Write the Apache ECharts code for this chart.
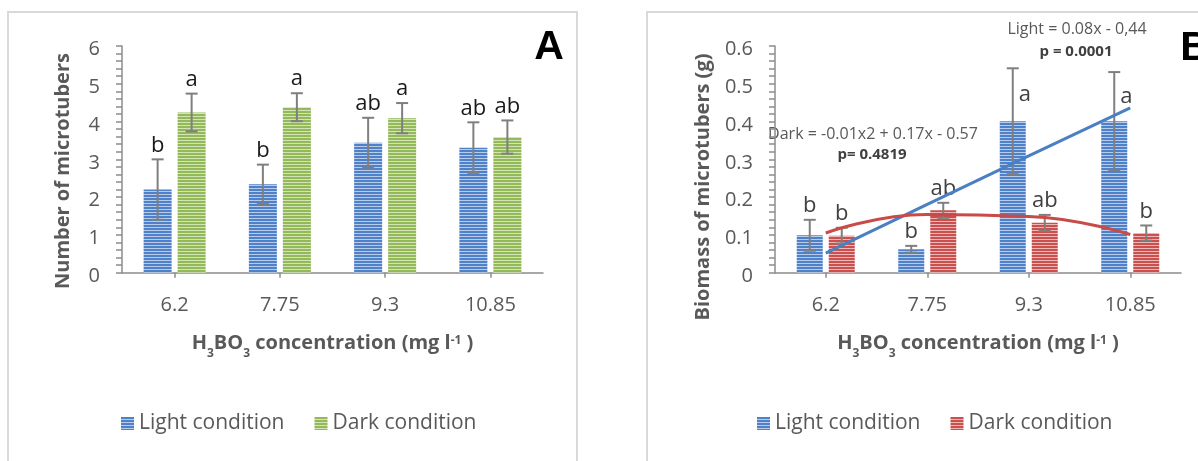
<!DOCTYPE html>
<html><head><meta charset="utf-8">
<script src="https://cdn.jsdelivr.net/npm/echarts@6.0.0/dist/echarts.min.js"></script>
<style>html,body{margin:0;padding:0;background:#fff}#c{width:1198px;height:461px}</style>
</head><body><div id="c"></div>
<script>
// ---------- data ----------
const categories = ['6.2', '7.75', '9.3', '10.85'];

// Panel A: number of microtubers
const lightCountA    = [2.2, 2.34, 3.44, 3.31];
const lightCountErrA = [0.8, 0.52, 0.66, 0.67];
const darkCountA     = [4.24, 4.38, 4.09, 3.59];
const darkCountErrA  = [0.5, 0.37, 0.4, 0.44];
const lightLettersA  = ['b', 'b', 'ab', 'ab'];
const darkLettersA   = ['a', 'a', 'a', 'ab'];

// Panel B: biomass of microtubers (g)
const lightBiomassB    = [0.099, 0.062, 0.401, 0.401];
const lightBiomassErrB = [0.041, 0.009, 0.14, 0.13];
const darkBiomassB     = [0.098, 0.165, 0.132, 0.105];
const darkBiomassErrB  = [0.021, 0.02, 0.021, 0.02];
const lightLettersB    = ['b', 'b', 'a', 'a'];
const darkLettersB     = ['b', 'ab', 'ab', 'b'];
const lightTrendB      = [0.052, 0.181, 0.309, 0.436];
const darkTrendB       = [0.105, 0.154, 0.149, 0.101];

const seriesNames = ['Light condition', 'Dark condition'];
const yAxisTitleA = 'Number of microtubers';
const yAxisTitleB = 'Biomass of microtubers (g)';
// x-axis title pieces: [text, kind]
const xAxisTitleParts = [['H', 'n'], ['3', 'sub'], ['BO', 'n'], ['3', 'sub'], [' concentration (mg l', 'n'], ['-1', 'sup'], [' )', 'n']];
const lightEquation = 'Light = 0.08x - 0,44';
const lightP = 'p = 0.0001';
const darkEquation = 'Dark = -0.01x2 + 0.17x - 0.57';
const darkP = 'p= 0.4819';

// ---------- styling ----------
const FONT = '"Open Sans", "DejaVu Sans", sans-serif';
const GREY = '#595959';
const AXIS = '#8c8c8c';

function stripe(main, light) {
  const c = document.createElement('canvas');
  c.width = 4; c.height = 3;
  const g = c.getContext('2d');
  g.fillStyle = light; g.fillRect(0, 0, 4, 3);
  g.fillStyle = main; g.fillRect(0, 0, 4, 2);
  return { image: c, repeat: 'repeat' };
}
const blueFill = stripe('#4f81c9', '#b8cbeb');
const greenFill = stripe('#93b958', '#d3e4b6');
const redFill = stripe('#c9504d', '#ecb7b6');

const BAR_A = 28, GAP_A = 6;
const BAR_B = 26, GAP_B = 6;

function errorSeries(gi, vals, errs, letters, side, barW, gapPx, letterColor, insideIdx) {
  return {
    type: 'custom', xAxisIndex: gi, yAxisIndex: gi, z: 3, silent: true, clip: false,
    data: vals.map((v, i) => [i, v, errs[i]]),
    encode: { x: 0, y: 1 },
    renderItem(params, api) {
      const i = api.value(0), v = api.value(1), e = api.value(2);
      const c = api.coord([i, v]);
      const x = c[0] + side * (barW + gapPx) / 2;
      const yTop = api.coord([i, v + e])[1];
      const yBot = api.coord([i, v - e])[1];
      const cap = 6;
      const ls = { stroke: '#7f7f7f', lineWidth: 2 };
      const children = [
        { type: 'line', shape: { x1: x, y1: yTop, x2: x, y2: yBot }, style: ls },
        { type: 'line', shape: { x1: x - cap, y1: yTop, x2: x + cap, y2: yTop }, style: ls },
        { type: 'line', shape: { x1: x - cap, y1: yBot, x2: x + cap, y2: yBot }, style: ls }
      ];
      let tx = x, ty = yTop - 3, va = 'bottom';
      if (insideIdx.indexOf(i) >= 0) { tx = x + 12; ty = (c[1] + yTop) / 2; va = 'middle'; }
      children.push({
        type: 'text', x: tx, y: ty, z2: 10,
        style: { text: letters[i], font: '22px ' + FONT, fill: letterColor,
                 align: 'center', verticalAlign: va, textAlign: 'center', textVerticalAlign: va }
      });
      return { type: 'group', children };
    }
  };
}

function yAxis(gi, max, interval) {
  const ls = { color: AXIS, width: 1.5 };
  return {
    type: 'value', gridIndex: gi, min: 0, max: max, interval: interval,
    axisLine: { show: true, lineStyle: ls },
    axisTick: { show: true, length: 6, lineStyle: ls },
    minorTick: { show: true, splitNumber: 5, length: 6, lineStyle: ls },
    splitLine: { show: false }, minorSplitLine: { show: false },
    axisLabel: { fontFamily: FONT, fontSize: 20, color: GREY, margin: 22, verticalAlign: 'top', lineHeight: 7 }
  };
}
function xAxis(gi) {
  const ls = { color: AXIS, width: 1.5 };
  return {
    type: 'category', gridIndex: gi, data: categories,
    axisLine: { show: true, lineStyle: ls },
    axisTick: { show: true, alignWithLabel: true, length: 5, lineStyle: ls },
    splitLine: { show: false },
    axisLabel: { fontFamily: FONT, fontSize: 20, color: GREY, margin: 23 }
  };
}

const measureCtx = document.createElement('canvas').getContext('2d');
function xTitle(cx, cy) {
  const fonts = { n: 'bold 20px ' + FONT, sub: 'bold 12px ' + FONT, sup: 'bold 12px ' + FONT };
  const dy = { n: 0, sub: 11, sup: -2 };
  const widths = xAxisTitleParts.map(p => { measureCtx.font = fonts[p[1]]; return measureCtx.measureText(p[0]).width; });
  const total = widths.reduce((a, b) => a + b, 0);
  let x = cx - total / 2;
  const children = xAxisTitleParts.map((p, k) => {
    const el = { type: 'text', x: x, y: cy + dy[p[1]], silent: true,
      style: { text: p[0], font: fonts[p[1]], fill: GREY, align: 'left', verticalAlign: 'middle',
               textAlign: 'left', textVerticalAlign: 'middle' } };
    x += widths[k];
    return el;
  });
  return { type: 'group', silent: true, children };
}
function txt(x, y, text, font, fill, rot) {
  return {
    type: 'text', x: x, y: y, rotation: rot || 0, silent: true,
    style: { text: text, font: font, fill: fill, align: 'center', verticalAlign: 'middle',
             textAlign: 'center', textVerticalAlign: 'middle' }
  };
}

const legendText = { fontFamily: FONT, fontSize: 21, color: GREY };
const chart = echarts.init(document.getElementById('c'), null, { renderer: 'canvas' });
chart.setOption({
  animation: false,
  backgroundColor: '#ffffff',
  grid: [
    { left: 122, top: 46, width: 421, height: 226.7, containLabel: false, outerBoundsMode: 'none' },
    { left: 775, top: 46, width: 406, height: 226.7, containLabel: false, outerBoundsMode: 'none' }
  ],
  xAxis: [xAxis(0), xAxis(1)],
  yAxis: [yAxis(0, 6, 1), yAxis(1, 0.6, 0.1)],
  legend: [
    { left: 121, top: 413, padding: 0, itemWidth: 13, itemHeight: 13, itemGap: 30, icon: 'rect', selectedMode: false,
      data: seriesNames.slice(), textStyle: legendText },
    { left: 757, top: 413, padding: 0, itemWidth: 13, itemHeight: 13, itemGap: 30, icon: 'rect', selectedMode: false,
      data: seriesNames.map(n => n + ' '), formatter: n => n.trim(), textStyle: legendText }
  ],
  graphic: [
    { type: 'rect', silent: true, z: -10, shape: { x: 8, y: 12, width: 569, height: 480 },
      style: { fill: 'none', stroke: '#d9d9d9', lineWidth: 2 } },
    { type: 'rect', silent: true, z: -10, shape: { x: 647, y: 12, width: 580, height: 480 },
      style: { fill: 'none', stroke: '#d9d9d9', lineWidth: 2 } },
    txt(549, 48, 'A', 'bold 41px "Liberation Sans", Arial, sans-serif', '#000'),
    txt(1195, 49, 'B', 'bold 41px "Liberation Sans", Arial, sans-serif', '#000'),
    txt(63, 171, yAxisTitleA, 'bold 20px ' + FONT, GREY, Math.PI / 2),
    txt(703, 187, yAxisTitleB, 'bold 20px ' + FONT, GREY, Math.PI / 2),
    xTitle(332.5, 343),
    xTitle(978, 343),
    txt(1077, 29, lightEquation, '16px ' + FONT, GREY),
    txt(1076, 52, lightP, 'bold 15px ' + FONT, '#404040'),
    txt(873, 134, darkEquation, '16px ' + FONT, GREY),
    txt(872, 154.5, darkP, 'bold 15px ' + FONT, '#404040')
  ],
  series: [
    { name: seriesNames[0], type: 'bar', xAxisIndex: 0, yAxisIndex: 0, data: lightCountA,
      barWidth: BAR_A, barGap: (GAP_A / BAR_A * 100) + '%', itemStyle: { color: blueFill } },
    { name: seriesNames[1], type: 'bar', xAxisIndex: 0, yAxisIndex: 0, data: darkCountA,
      barWidth: BAR_A, barGap: (GAP_A / BAR_A * 100) + '%', itemStyle: { color: greenFill } },
    { name: seriesNames[0] + ' ', type: 'bar', xAxisIndex: 1, yAxisIndex: 1, data: lightBiomassB,
      barWidth: BAR_B, barGap: (GAP_B / BAR_B * 100) + '%', itemStyle: { color: blueFill } },
    { name: seriesNames[1] + ' ', type: 'bar', xAxisIndex: 1, yAxisIndex: 1, data: darkBiomassB,
      barWidth: BAR_B, barGap: (GAP_B / BAR_B * 100) + '%', itemStyle: { color: redFill } },
    errorSeries(0, lightCountA, lightCountErrA, lightLettersA, -1, BAR_A, GAP_A, '#1a1a1a', []),
    errorSeries(0, darkCountA, darkCountErrA, darkLettersA, 1, BAR_A, GAP_A, '#1a1a1a', []),
    errorSeries(1, lightBiomassB, lightBiomassErrB, lightLettersB, -1, BAR_B, GAP_B, '#404040', [2, 3]),
    errorSeries(1, darkBiomassB, darkBiomassErrB, darkLettersB, 1, BAR_B, GAP_B, '#404040', []),
    { name: 'Light trend', type: 'line', xAxisIndex: 1, yAxisIndex: 1, data: lightTrendB, z: 4,
      symbol: 'none', silent: true, lineStyle: { color: '#4a7fc4', width: 3 } },
    { name: 'Dark trend', type: 'line', xAxisIndex: 1, yAxisIndex: 1, data: darkTrendB, z: 4,
      symbol: 'none', smooth: 0.5, silent: true, lineStyle: { color: '#c84b48', width: 3 } }
  ]
});
</script></body></html>
